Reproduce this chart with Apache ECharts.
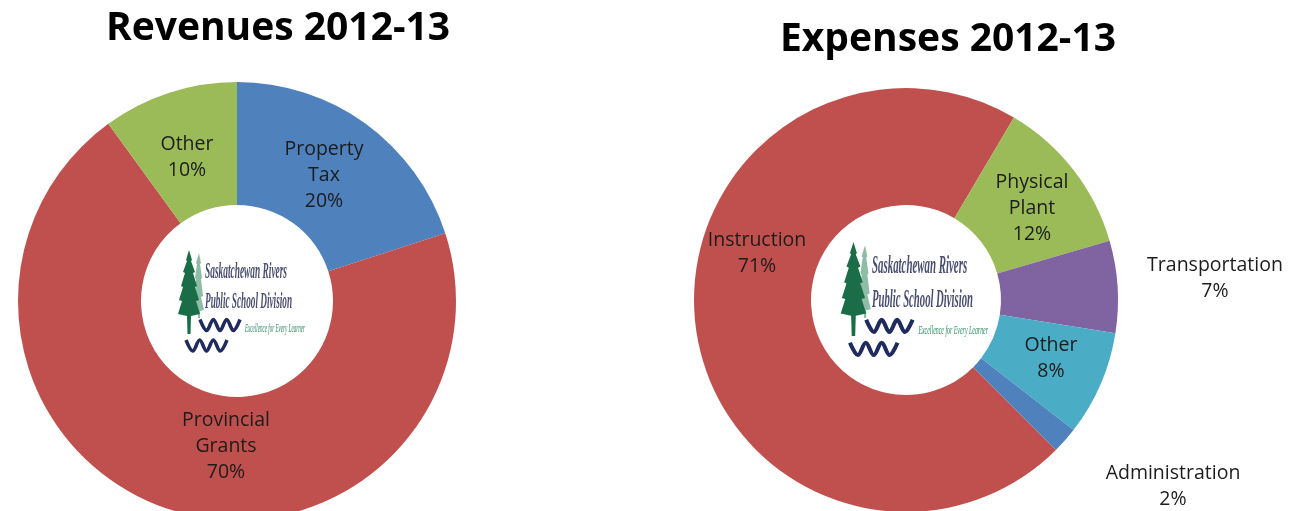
<!DOCTYPE html>
<html>
<head>
<meta charset="utf-8">
<script src="https://cdn.jsdelivr.net/npm/echarts@6/dist/echarts.min.js"></script>
<style>
  html, body { margin: 0; padding: 0; background: #ffffff; }
  #chart { width: 1289px; height: 511px; }
</style>
</head>
<body>
<div id="chart"></div>
<script>
// Revenue breakdown, 2012-13 (percent of total)
const revenueCategories = ['Property Tax', 'Provincial Grants', 'Other'];
const revenueLabelNames = ['Property\nTax', 'Provincial\nGrants', 'Other'];
const revenueValues = [20, 70, 10];

// Expense breakdown, 2012-13 (percent of total)
const expenseCategories = ['Instruction', 'Physical Plant', 'Transportation', 'Other', 'Administration'];
const expenseLabelNames = ['Instruction', 'Physical\nPlant', 'Transportation', 'Other', 'Administration'];
const expenseValues = [71, 12, 7, 8, 2];

// Slice colours (Office palette)
const revenueColors = ['#4F81BD', '#C0504D', '#9BBB59'];
const expenseColors = ['#C0504D', '#9BBB59', '#8064A2', '#4BACC6', '#4F81BD'];

// Where each slice's label sits (centre of the text block)
const revenueLabelAnchors = [[324, 175], [226, 446], [187, 157]];
const expenseLabelAnchors = [[757, 253], [1032, 208], [1215, 278], [1051, 358], [1173, 486]];

const labelFont = '"Open Sans", "Noto Sans", sans-serif';
const titleFont = '"Open Sans", "Noto Sans", sans-serif';

// ---- division logo drawn in the hole of each donut ----
const measureCtx = document.createElement('canvas').getContext('2d');
function squeeze(text, style, weight, size, family, width) {
  measureCtx.font = `${style} ${weight} ${size}px ${family}`;
  return width / measureCtx.measureText(text).width;
}

const darkTree = [
  [9, 2], [12, 12], [11, 13], [15, 24], [13, 25], [17, 38], [15, 39], [19, 52], [16, 53],
  [20, 66], [11, 68], [10.5, 86], [7.5, 86], [7, 68], [-2, 66], [2, 53], [-1, 52], [3, 39],
  [1, 38], [5, 25], [3, 24], [7, 13], [6, 12]
];
const lightTree = [
  [19, 5], [21, 15], [20, 16], [22, 30], [21, 31], [23, 48], [21, 49], [24, 62], [20, 63],
  [20, 70], [18, 70], [18, 63], [14, 62], [16, 49], [15, 48], [16, 31], [15, 30], [17, 16], [16, 15]
];

function wave(x0, yc, w) {
  const pts = [];
  for (let i = 0; i <= 6; i++) pts.push([x0 + i * w / 6, yc + (i % 2 ? 5.5 : -5.5)]);
  return pts;
}

function logo(ox, oy, sx, sy) {
  const serif = '"Liberation Serif", "DejaVu Serif", serif';
  const nameText = (txt, x, y, width) => ({
    type: 'text', x: x, y: y,
    scaleX: squeeze(txt, 'italic', 'bold', 23, serif, width),
    style: {
      text: txt, x: 0, y: 0, fontStyle: 'italic', fontWeight: 'bold', fontSize: 23,
      fontFamily: serif, fill: '#4a4e6e', align: 'left', verticalAlign: 'middle'
    }
  });
  const motto = 'Excellence for Every Learner';
  return {
    type: 'group', x: ox, y: oy, scaleX: sx, scaleY: sy, z: 10, silent: true,
    children: [
      { type: 'rect', shape: { x: -7, y: 6, width: 136, height: 94 }, style: { fill: '#ffffff' } },
      { type: 'polygon', shape: { points: lightTree }, style: { fill: '#8fbca6' } },
      { type: 'polygon', shape: { points: darkTree }, style: { fill: '#1b6d47' } },
      nameText('Saskatchewan Rivers', 25, 24, 82),
      nameText('Public School Division', 25, 54, 87),
      {
        type: 'text', x: 65, y: 81,
        scaleX: squeeze(motto, 'italic', 'normal', 12, serif, 60),
        style: {
          text: motto, x: 0, y: 0, fontStyle: 'italic', fontSize: 12, fontFamily: serif,
          fill: '#2f8a64', align: 'left', verticalAlign: 'middle'
        }
      },
      { type: 'polyline', shape: { points: wave(20, 77, 40), smooth: 0.35 },
        style: { stroke: '#1f2b5c', lineWidth: 3.5, fill: null } },
      { type: 'polyline', shape: { points: wave(6, 97.5, 41), smooth: 0.35 },
        style: { stroke: '#1f2b5c', lineWidth: 3.5, fill: null } }
    ]
  };
}

function pieSeries(categories, values, colors, labelNames, anchors, center, radius, startAngle) {
  return {
    type: 'pie',
    center: center,
    radius: radius,
    startAngle: startAngle,
    clockwise: true,
    avoidLabelOverlap: false,
    silent: true,
    animation: false,
    itemStyle: { borderWidth: 0 },
    data: categories.map((name, i) => ({ name: name, value: values[i], itemStyle: { color: colors[i] } })),
    label: {
      show: true,
      position: 'inside',
      formatter: p => labelNames[p.dataIndex] + '\n' + p.percent + '%',
      color: '#1c1c1c',
      fontFamily: labelFont,
      fontSize: 19.5,
      lineHeight: 26,
      align: 'center'
    },
    labelLine: { show: false },
    labelLayout: p => ({
      x: anchors[p.dataIndex][0],
      y: anchors[p.dataIndex][1],
      align: 'center',
      verticalAlign: 'middle'
    }),
    emphasis: { disabled: true }
  };
}

const chart = echarts.init(document.getElementById('chart'), null, { renderer: 'canvas' });
chart.setOption({
  backgroundColor: '#ffffff',
  animation: false,
  title: [
    {
      text: 'Revenues 2012-13', left: 273, top: 4, textAlign: 'center',
      textStyle: { fontFamily: titleFont, fontWeight: 'bold', fontSize: 39, color: '#000000' }
    },
    {
      text: 'Expenses 2012-13', left: 943, top: 15, textAlign: 'center',
      textStyle: { fontFamily: titleFont, fontWeight: 'bold', fontSize: 39, color: '#000000' }
    }
  ],
  series: [
    pieSeries(revenueCategories, revenueValues, revenueColors, revenueLabelNames,
      revenueLabelAnchors, [237, 301], [96, 219], 90),
    pieSeries(expenseCategories, expenseValues, expenseColors, expenseLabelNames,
      expenseLabelAnchors, [906, 300], [95, 212], 315)
  ],
  graphic: [
    logo(180, 248, 1, 1),
    logo(843, 239.7, 1.16, 1.12)
  ]
});
</script>
</body>
</html>
